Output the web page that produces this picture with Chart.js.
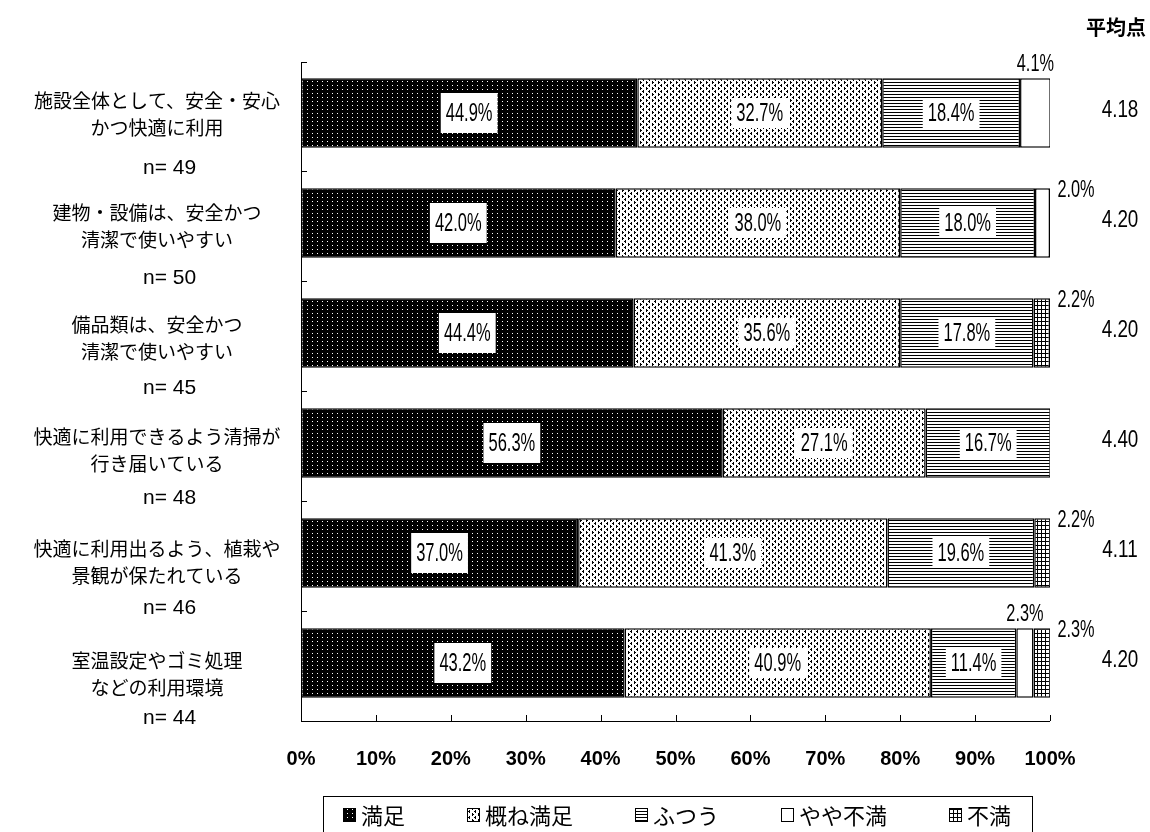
<!DOCTYPE html>
<html>
<head>
<meta charset="utf-8">
<script src="https://cdn.jsdelivr.net/npm/chart.js@4/dist/chart.umd.min.js"></script>
<style>
  body { margin: 0; background: #fff; }
</style>
</head>
<body>
<canvas id="chart" width="1150" height="832"></canvas>
<script>
const categories = [
  ["施設全体として、安全・安心", "かつ快適に利用"],
  ["建物・設備は、安全かつ", "清潔で使いやすい"],
  ["備品類は、安全かつ", "清潔で使いやすい"],
  ["快適に利用できるよう清掃が", "行き届いている"],
  ["快適に利用出るよう、植栽や", "景観が保たれている"],
  ["室温設定やゴミ処理", "などの利用環境"],
]
const sampleSizes = [49, 50, 45, 48, 46, 44]
const seriesNames = ["満足", "概ね満足", "ふつう", "やや不満", "不満"]
const satisfied = [44.9, 42.0, 44.4, 56.3, 37.0, 43.2]
const mostlySatisfied = [32.7, 38.0, 35.6, 27.1, 41.3, 40.9]
const neutral = [18.4, 18.0, 17.8, 16.7, 19.6, 11.4]
const somewhatUnsatisfied = [4.1, 2.0, 0, 0, 0, 2.3]
const unsatisfied = [0, 0, 2.2, 0, 2.2, 2.3]
const averageScores = ["4.18", "4.20", "4.20", "4.40", "4.11", "4.20"]
const xTicks = [0, 10, 20, 30, 40, 50, 60, 70, 80, 90, 100]

const JP = '"Noto Sans CJK JP", "Noto Sans", sans-serif'
const NUM = '"Liberation Sans", Arial, sans-serif'

// small label for やや不満 goes above the segment on these rows, else right of bar
const smallAbove = [true, false, true, true, true, true]

// the axis frame sits a little lower than the bar band
const AXIS_BOTTOM = 721
const AXIS_TOP = 62

function makePattern(kind) {
  const c = document.createElement("canvas")
  const size = { dark: [5, 4], light: [6, 6], lines: [3, 3], grid: [4, 4] }[kind]
  c.width = size[0]
  c.height = size[1]
  const g = c.getContext("2d")
  g.fillStyle = kind === "dark" ? "#000" : "#fff"
  g.fillRect(0, 0, c.width, c.height)
  g.fillStyle = kind === "dark" ? "#fff" : "#000"
  if (kind === "dark") {
    g.fillRect(2, 1, 1, 1)
  } else if (kind === "light") {
    g.fillRect(1, 0, 1, 1)
    g.fillRect(0, 1, 2, 1)
    g.fillRect(1, 2, 1, 1)
    g.fillRect(4, 3, 1, 1)
    g.fillRect(4, 4, 2, 1)
    g.fillRect(4, 5, 1, 1)
  } else if (kind === "lines") {
    g.fillRect(0, 1, 3, 1)
  } else if (kind === "grid") {
    g.fillRect(0, 1, 4, 1)
    g.fillRect(1, 0, 1, 4)
  }
  return g.createPattern(c, "repeat")
}

const fills = [makePattern("dark"), makePattern("light"), makePattern("lines"), "#fff", makePattern("grid")]
const seriesValues = [satisfied, mostlySatisfied, neutral, somewhatUnsatisfied, unsatisfied]

function condensedText(ctx, text, x, y, size, sx, align) {
  ctx.save()
  ctx.font = size + "px " + NUM
  ctx.textAlign = align || "center"
  ctx.textBaseline = "middle"
  ctx.translate(x, y)
  ctx.scale(sx, 1)
  ctx.fillText(text, 0, 0)
  ctx.restore()
}

const overlay = {
  id: "overlay",
  beforeDatasetsDraw(chart) {
    const ctx = chart.ctx
    const area = chart.chartArea
    const y = chart.scales.y
    const x = chart.scales.x
    ctx.save()
    ctx.strokeStyle = "#000"
    ctx.lineWidth = 1
    ctx.beginPath()
    ctx.moveTo(area.left + 0.5, AXIS_TOP)
    ctx.lineTo(area.left + 0.5, AXIS_BOTTOM)
    ctx.moveTo(area.left, AXIS_BOTTOM + 0.5)
    ctx.lineTo(area.right, AXIS_BOTTOM + 0.5)
    for (let i = 0; i <= categories.length; i++) {
      const py = Math.min(AXIS_BOTTOM, Math.max(AXIS_TOP, Math.round(y.getPixelForValue(i - 0.5)) + 3)) + 0.5
      ctx.moveTo(area.left, py)
      ctx.lineTo(area.left + 6, py)
    }
    xTicks.forEach(t => {
      const px = Math.round(x.getPixelForValue(t)) + 0.5
      ctx.moveTo(px, AXIS_BOTTOM)
      ctx.lineTo(px, AXIS_BOTTOM - 6)
    })
    ctx.stroke()
    ctx.restore()
  },
  afterDatasetsDraw(chart) {
    const ctx = chart.ctx
    const area = chart.chartArea
    ctx.save()
    ctx.fillStyle = "#000"

    chart.data.datasets.forEach((ds, di) => {
      const meta = chart.getDatasetMeta(di)
      meta.data.forEach((bar, j) => {
        const v = ds.data[j]
        if (!v) return
        const left = Math.min(bar.x, bar.base)
        const right = Math.max(bar.x, bar.base)
        const top = bar.y - bar.height / 2
        const txt = v.toFixed(1) + "%"
        if (v >= 10) {
          ctx.font = "25px " + NUM
          const w = ctx.measureText(txt).width * 0.66 + 10
          const h = di === 0 ? 40 : 30
          const cx = (left + right) / 2
          ctx.fillStyle = "#fff"
          ctx.fillRect(cx - w / 2, bar.y - h / 2, w, h)
          ctx.fillStyle = "#000"
          condensedText(ctx, txt, cx, bar.y + 1, 25, 0.66)
        } else if (di === 3 && smallAbove[j]) {
          condensedText(ctx, txt, (left + right) / 2, top - 14, 24, 0.68)
        } else {
          condensedText(ctx, txt, area.right + 26, top + 2, 24, 0.68)
        }
      })
    })

    const y = chart.scales.y
    categories.forEach((lines, i) => {
      const cy = y.getPixelForValue(i)
      ctx.font = "19px " + JP
      ctx.textAlign = "center"
      ctx.textBaseline = "middle"
      ctx.fillText(lines[0], 157, cy - 12 + 2 * i)
      ctx.fillText(lines[1], 157, cy + 15 + 2 * i)
      condensedText(ctx, "n= " + sampleSizes[i], 143, cy + 55, 21, 1, "left")
      condensedText(ctx, averageScores[i], 1120, cy - 2, 23, 0.82)
    })

    ctx.font = "bold 20px " + JP
    ctx.textAlign = "center"
    ctx.textBaseline = "middle"
    ctx.fillText("平均点", 1116, 27)

    // legend box
    ctx.strokeStyle = "#000"
    ctx.lineWidth = 1
    ctx.strokeRect(323.5, 796.5, 709, 60)
    ctx.font = "22px " + JP
    ctx.textAlign = "left"
    let lx = 343
    seriesNames.forEach((name, i) => {
      ctx.fillStyle = fills[i]
      ctx.fillRect(lx, 808, 13, 14)
      ctx.strokeStyle = "#000"
      ctx.strokeRect(lx + 0.5, 808.5, 12, 13)
      ctx.fillStyle = "#000"
      ctx.fillText(name, lx + 18, 816)
      lx += 18 + ctx.measureText(name).width + 62
    })
    ctx.restore()
  }
}

new Chart(document.getElementById("chart"), {
  type: "bar",
  data: {
    labels: categories.map(c => c.join("")),
    datasets: seriesNames.map((name, i) => ({
      label: name,
      data: seriesValues[i],
      backgroundColor: fills[i],
      borderColor: "#000",
      borderWidth: 1.5,
      borderSkipped: false,
      barPercentage: 0.63,
      categoryPercentage: 1,
    })),
  },
  options: {
    indexAxis: "y",
    responsive: false,
    animation: false,
    layout: { padding: { left: 301, right: 100, top: 58, bottom: 0 } },
    plugins: { legend: { display: false }, tooltip: { enabled: false } },
    scales: {
      x: {
        stacked: true,
        min: 0,
        max: 100,
        grid: { display: false, drawTicks: false },
        border: { display: false },
        ticks: {
          stepSize: 10,
          padding: 29,
          color: "#000",
          font: { family: '"Liberation Sans Narrow", "Liberation Sans", Arial, sans-serif', size: 20, weight: "bold" },
          callback: v => v + "%",
        },
        afterFit(scale) { scale.height = 114 },
      },
      y: { stacked: true, display: false },
    },
  },
  plugins: [overlay],
})
</script>
</body>
</html>
